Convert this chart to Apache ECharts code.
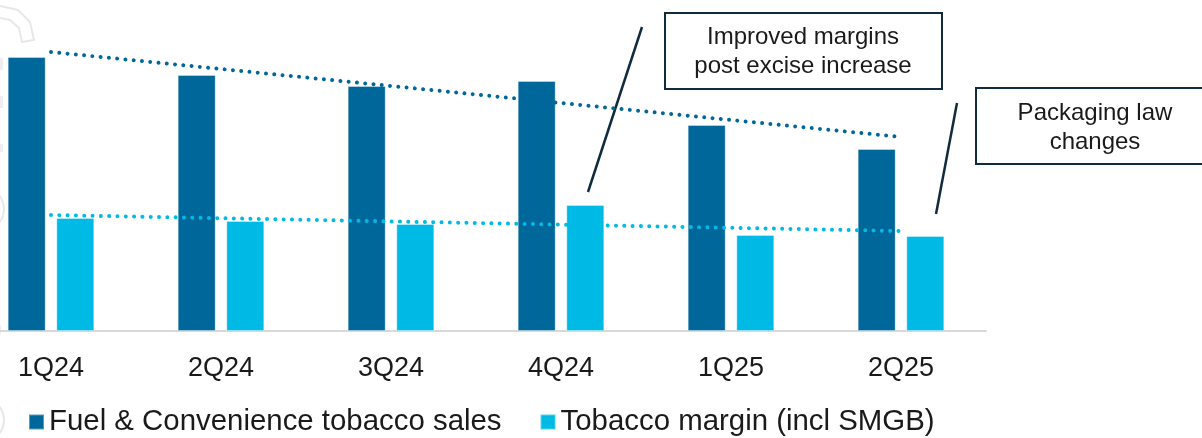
<!DOCTYPE html>
<html>
<head>
<meta charset="utf-8">
<script src="https://cdn.jsdelivr.net/npm/echarts@6/dist/echarts.min.js"></script>
<style>html,body{margin:0;padding:0;background:#fff;}#c{width:1202px;height:438px;}</style>
</head>
<body>
<div id="c"></div>
<script>
const categories = ['1Q24', '2Q24', '3Q24', '4Q24', '1Q25', '2Q25'];
const fuelConvenienceSales = [274, 256, 245, 250, 206, 182];
const tobaccoMargin = [113, 110, 107, 126, 96, 95];
const salesTrend = [279, 194];   // trend start (1Q24) and end (2Q25)
const marginTrend = [116, 100];
const seriesNames = ['Fuel & Convenience tobacco sales', 'Tobacco margin (incl SMGB)'];
const note1 = ['Improved margins', 'post excise increase'];
const note2 = ['Packaging law', 'changes'];

const DARK = '#00679A';
const LIGHT = '#00BAE6';
const NAVY = '#0F2B3D';
const FONT = '"Liberation Sans", Arial, sans-serif';

const chart = echarts.init(document.getElementById('c'));
const dotted = (color) => ({ color: color, width: 4, type: [0.01, 8.3], cap: 'round' });
const last = categories.length - 1;

chart.setOption({
  animation: false,
  backgroundColor: '#ffffff',
  textStyle: { fontFamily: FONT },
  grid: { left: -34, right: 216, top: 31, bottom: 107, outerBoundsMode: 'none', containLabel: false },
  xAxis: {
    type: 'category',
    data: categories,
    axisLine: { show: true, lineStyle: { color: '#D9D9D9', width: 2 } },
    axisTick: { show: false },
    axisLabel: { fontSize: 27, color: '#1A1A1A', margin: 24, fontFamily: FONT }
  },
  yAxis: {
    type: 'value', min: 0, max: 300,
    show: false, splitLine: { show: false }
  },
  legend: {
    left: 23, top: 402,
    itemWidth: 15, itemHeight: 15, itemGap: 38,
    icon: 'rect',
    textStyle: { fontSize: 29.4, color: '#1A1A1A', fontFamily: FONT, lineHeight: 30 },
    data: seriesNames
  },
  series: [
    {
      name: seriesNames[0], type: 'bar', data: fuelConvenienceSales,
      barWidth: 38, barGap: '28%',
      itemStyle: { color: DARK, borderColor: 'rgba(255,255,255,0.35)', borderWidth: 1 }
    },
    {
      name: seriesNames[1], type: 'bar', data: tobaccoMargin,
      barWidth: 38, barGap: '28%',
      itemStyle: { color: LIGHT, borderColor: 'rgba(255,255,255,0.35)', borderWidth: 1 }
    },
    {
      name: 'trend', type: 'line', data: [], z: 5, silent: true,
      markLine: {
        silent: true, symbol: 'none', label: { show: false },
        data: [
          [{ coord: [0, salesTrend[0]], lineStyle: dotted(DARK) }, { coord: [last, salesTrend[1]] }],
          [{ coord: [0, marginTrend[0]], lineStyle: dotted(LIGHT) }, { coord: [last, marginTrend[1]] }]
        ]
      }
    }
  ],
  graphic: [
    // faint decorative watermark at the left edge
    { type: 'polyline', silent: true, z: -1, shape: { points: [[0, 6], [18, 10], [30, 22], [34, 40], [22, 42], [19, 28], [10, 20], [0, 18]] },
      style: { fill: 'none', stroke: '#E8E8E8', lineWidth: 2 } },
    { type: 'rect', silent: true, z: -1, shape: { x: 0, y: 58, width: 3, height: 12 }, style: { fill: '#EEEEEE' } },
    { type: 'rect', silent: true, z: -1, shape: { x: 0, y: 96, width: 3, height: 12 }, style: { fill: '#EEEEEE' } },
    { type: 'rect', silent: true, z: -1, shape: { x: 0, y: 144, width: 3, height: 8 }, style: { fill: '#EEEEEE' } },
    { type: 'circle', silent: true, z: -1, shape: { cx: -18, cy: 209, r: 22 }, style: { fill: 'none', stroke: '#E8E8E8', lineWidth: 2 } },
    { type: 'circle', silent: true, z: -1, shape: { cx: -18, cy: 330, r: 18 }, style: { fill: 'none', stroke: '#E8E8E8', lineWidth: 2 } },
    { type: 'circle', silent: true, z: -1, shape: { cx: -18, cy: 420, r: 22 }, style: { fill: 'none', stroke: '#E8E8E8', lineWidth: 2 } },
    // annotation 1
    { type: 'line', silent: true, shape: { x1: 642, y1: 27, x2: 588, y2: 192 }, style: { stroke: NAVY, lineWidth: 2.5 } },
    { type: 'rect', silent: true, shape: { x: 665, y: 13, width: 277, height: 76 }, style: { fill: '#fff', stroke: NAVY, lineWidth: 2 } },
    { type: 'text', silent: true, style: { x: 803, y: 37, text: note1[0], font: '24px ' + FONT, fill: '#1A1A1A', textAlign: 'center', textVerticalAlign: 'middle' } },
    { type: 'text', silent: true, style: { x: 803, y: 66, text: note1[1], font: '24px ' + FONT, fill: '#1A1A1A', textAlign: 'center', textVerticalAlign: 'middle' } },
    // annotation 2
    { type: 'line', silent: true, shape: { x1: 957, y1: 103, x2: 936, y2: 214 }, style: { stroke: NAVY, lineWidth: 2.5 } },
    { type: 'rect', silent: true, shape: { x: 976, y: 88, width: 240, height: 76 }, style: { fill: '#fff', stroke: NAVY, lineWidth: 2 } },
    { type: 'text', silent: true, style: { x: 1095, y: 113, text: note2[0], font: '24px ' + FONT, fill: '#1A1A1A', textAlign: 'center', textVerticalAlign: 'middle' } },
    { type: 'text', silent: true, style: { x: 1095, y: 142, text: note2[1], font: '24px ' + FONT, fill: '#1A1A1A', textAlign: 'center', textVerticalAlign: 'middle' } }
  ]
});
</script>
</body>
</html>
